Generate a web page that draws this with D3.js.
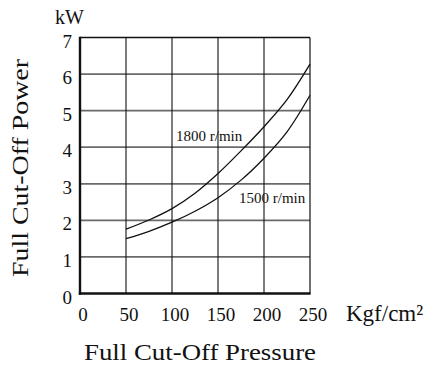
<!DOCTYPE html>
<html><head><meta charset="utf-8">
<script src="https://cdn.jsdelivr.net/npm/d3@7"></script>
<style>body{margin:0;background:#fff}svg{display:block}text{font-family:"Liberation Serif","Times New Roman",Times,serif;fill:#111}</style>
</head><body><svg id="c" width="437" height="369"></svg>
<script>
const xTicks = [0, 50, 100, 150, 200, 250];
const yTicks = [0, 1, 2, 3, 4, 5, 6, 7];
const pressure = [50, 75, 100, 125, 150, 175, 200, 225, 250];
const power1800 = [1.76, 2.01, 2.32, 2.74, 3.28, 3.90, 4.56, 5.30, 6.27];
const power1500 = [1.50, 1.70, 1.95, 2.25, 2.62, 3.10, 3.70, 4.42, 5.42];
const seriesLabels = ["1800 r/min", "1500 r/min"];

const svg = d3.select("#c");
const x = d3.scaleLinear().domain([0, 250]).range([80, 310]);
const y = d3.scaleLinear().domain([0, 7]).range([293.5, 37.5]);

// horizontal gridlines (gray)
svg.append("g").selectAll("line").data(yTicks.slice(1, -1)).join("line")
  .attr("x1", x(0)).attr("x2", x(250)).attr("y1", d => y(d)).attr("y2", d => y(d))
  .attr("stroke", "#6a6a6a").attr("stroke-width", 1.8);
// vertical gridlines (black)
svg.append("g").selectAll("line").data(xTicks.slice(1, -1)).join("line")
  .attr("x1", d => x(d)).attr("x2", d => x(d)).attr("y1", y(7)).attr("y2", y(0))
  .attr("stroke", "#111").attr("stroke-width", 1.1);
// frame
svg.append("line").attr("x1", x(0)).attr("x2", x(250)).attr("y1", y(7)).attr("y2", y(7)).attr("stroke", "#111").attr("stroke-width", 1.5);
svg.append("line").attr("x1", x(250)).attr("x2", x(250)).attr("y1", y(7)).attr("y2", y(0)).attr("stroke", "#111").attr("stroke-width", 1.2);
svg.append("line").attr("x1", x(0)).attr("x2", x(0)).attr("y1", y(7) - 0.75).attr("y2", y(0) + 1.2).attr("stroke", "#111").attr("stroke-width", 2.4);
svg.append("line").attr("x1", x(0) - 1.2).attr("x2", x(250) + 0.6).attr("y1", y(0)).attr("y2", y(0)).attr("stroke", "#111").attr("stroke-width", 2.4);

// curves
const line = d3.line().x((d, i) => x(pressure[i])).y(d => y(d)).curve(d3.curveCatmullRom.alpha(0.5));
[power1800, power1500].forEach(s => {
  svg.append("path").attr("d", line(s)).attr("fill", "none").attr("stroke", "#111").attr("stroke-width", 1.3);
});

// tick labels
svg.append("g").selectAll("text").data(yTicks).join("text")
  .attr("x", 72).attr("y", d => y(d) + 10).attr("text-anchor", "end")
  .attr("font-size", 19).text(d => d);
svg.append("g").selectAll("text").data(xTicks).join("text")
  .attr("x", d => x(d) + 3).attr("y", 321).attr("text-anchor", "middle")
  .attr("font-size", 19).text(d => d);

// units and titles
svg.append("text").attr("x", 55).attr("y", 24).attr("font-size", 20).text("kW");
svg.append("text").attr("x", 346).attr("y", 321).attr("font-size", 23).text("Kgf/cm²");
svg.append("text").attr("x", 84).attr("y", 360).attr("font-size", 24)
  .attr("textLength", 232).attr("lengthAdjust", "spacingAndGlyphs").text("Full Cut-Off Pressure");
svg.append("text").attr("transform", "translate(28,277) rotate(-90)").attr("font-size", 24)
  .attr("textLength", 218).attr("lengthAdjust", "spacingAndGlyphs").text("Full Cut-Off Power");

// series labels
svg.append("text").attr("x", 176).attr("y", 141).attr("font-size", 15).text(seriesLabels[0]);
svg.append("text").attr("x", 239).attr("y", 203).attr("font-size", 15).text(seriesLabels[1]);
</script></body></html>
